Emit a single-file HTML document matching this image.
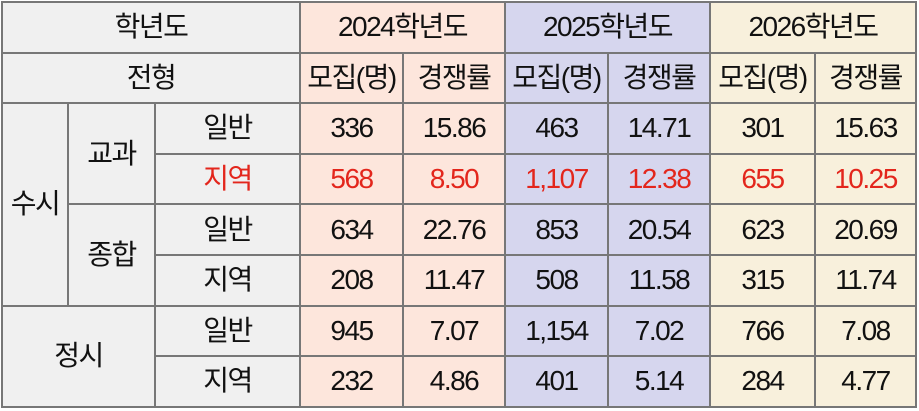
<!DOCTYPE html>
<html><head><meta charset="utf-8"><style>
html,body{margin:0;padding:0;background:#fff;width:919px;height:411px;overflow:hidden}
table{position:absolute;left:1px;top:1px;border-collapse:collapse;table-layout:fixed;border:2px solid #222;
font-family:"Liberation Sans","Noto Sans CJK KR","NanumGothic",sans-serif;font-size:28px;color:#111;letter-spacing:-1.5px}
td{border:2px solid #777;text-align:center;vertical-align:middle;padding:0;height:48.6px;white-space:nowrap;line-height:30px}
.g{background:#f0f0f0}.p{background:#fde6dc}.l{background:#d6d6ee}.c{background:#f8f0dc}
.r{color:#e3261c}
</style></head><body>
<table>
<colgroup><col style="width:66px"><col style="width:87px"><col style="width:145px"><col style="width:103px"><col style="width:102px"><col style="width:103px"><col style="width:102px"><col style="width:105px"><col style="width:101px"></colgroup>
<tr><td class="g" colspan="3">학년도</td><td class="p" colspan="2">2024학년도</td><td class="l" colspan="2">2025학년도</td><td class="c" colspan="2">2026학년도</td></tr>
<tr><td class="g" colspan="3">전형</td><td class="p">모집(명)</td><td class="p">경쟁률</td><td class="l">모집(명)</td><td class="l">경쟁률</td><td class="c">모집(명)</td><td class="c">경쟁률</td></tr>
<tr><td class="g" rowspan="4">수시</td><td class="g" rowspan="2">교과</td><td class="g">일반</td><td class="p">336</td><td class="p">15.86</td><td class="l">463</td><td class="l">14.71</td><td class="c">301</td><td class="c">15.63</td></tr>
<tr class="r"><td class="g">지역</td><td class="p">568</td><td class="p">8.50</td><td class="l">1,107</td><td class="l">12.38</td><td class="c">655</td><td class="c">10.25</td></tr>
<tr><td class="g" rowspan="2">종합</td><td class="g">일반</td><td class="p">634</td><td class="p">22.76</td><td class="l">853</td><td class="l">20.54</td><td class="c">623</td><td class="c">20.69</td></tr>
<tr><td class="g">지역</td><td class="p">208</td><td class="p">11.47</td><td class="l">508</td><td class="l">11.58</td><td class="c">315</td><td class="c">11.74</td></tr>
<tr><td class="g" colspan="2" rowspan="2">정시</td><td class="g">일반</td><td class="p">945</td><td class="p">7.07</td><td class="l">1,154</td><td class="l">7.02</td><td class="c">766</td><td class="c">7.08</td></tr>
<tr><td class="g">지역</td><td class="p">232</td><td class="p">4.86</td><td class="l">401</td><td class="l">5.14</td><td class="c">284</td><td class="c">4.77</td></tr>
</table>
</body></html>
